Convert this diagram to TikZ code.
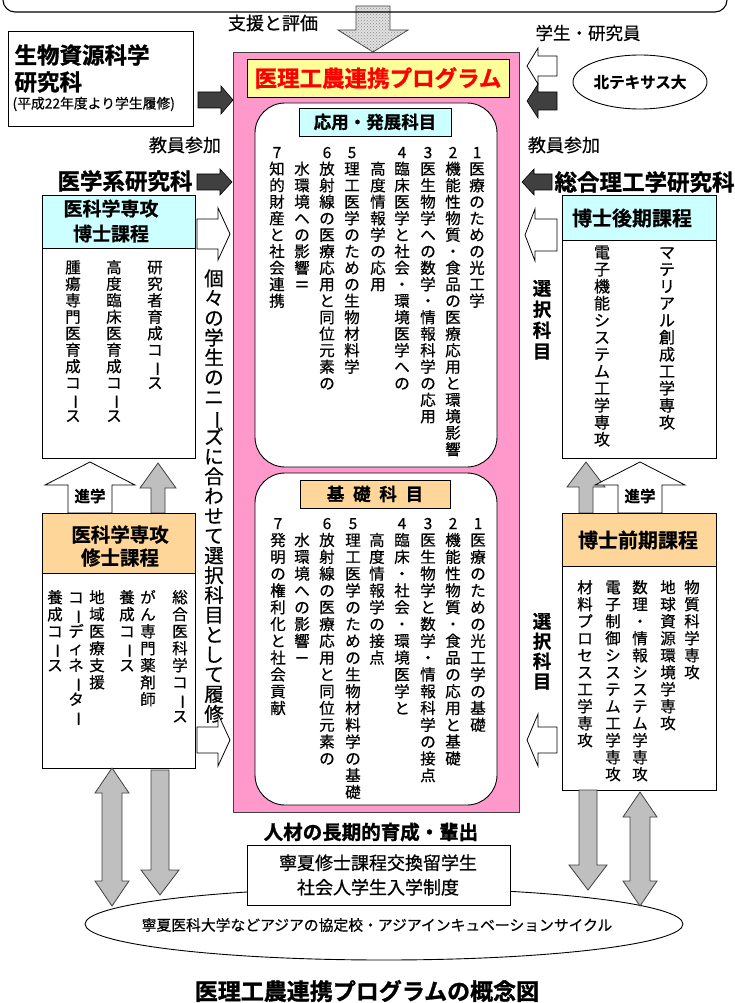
\documentclass[tikz,border=0pt]{standalone}
\usepackage{fontspec}
\usepackage{graphicx}
\setmainfont{Noto Sans CJK JP}[BoldFont={Noto Sans CJK JP Bold}, FakeBold=0.6]
\newfontfamily\heavy{Noto Sans CJK JP Bold}[FakeBold=1.2]
\usetikzlibrary{shapes.geometric,patterns}

\definecolor{pinkc}{HTML}{FF99CC}
\definecolor{yel}{HTML}{FFFF99}
\definecolor{cyanl}{HTML}{CCFFFF}
\definecolor{orl}{HTML}{FFD699}
\definecolor{darkarr}{HTML}{404040}
\definecolor{grayarr}{HTML}{BFBFBF}
\definecolor{redt}{HTML}{FF0000}

\newcommand\fs[2]{\fontsize{#1pt}{#2pt}\selectfont}

\ExplSyntaxOn
\cs_new:Npn \vt_item:n #1
  {
    \hbox_to_wd:nn {1em}
      {
        \hss \vrule~height~.88em~depth~.12em~width~0pt\relax
        \str_if_eq:nnTF {#1} {ー}
          { \rotatebox[origin=c]{-90}{ー} }
          { #1 }
        \hss
      }
  }
\NewDocumentCommand \vt { O{16.5pt} m }
  {
    \vbox
      {
        \baselineskip=#1\relax
        \lineskiplimit=-100pt\relax
        \lineskip=0pt\relax
        \tl_map_function:nN {#2} \vt_item:n
      }
  }
\ExplSyntaxOff

% block arrow: tip x, tip y, rotation, length, shaft half width, head half width, head length
\newcommand\barrow[8][]{%
  \draw[#1,shift={(#2,#3)},rotate=#4] (0,0) -- (-#8,#7) -- (-#8,#6) -- (-#5,#6)
    -- (-#5,-#6) -- (-#8,-#6) -- (-#8,-#7) -- cycle;}
% vertical double arrow: x, y top, y bottom, shaft hw, head hw, head length
\newcommand\dblarrow[7][]{%
  \draw[#1] (#2,#3) -- ({#2+#6},{#3+#7}) -- ({#2+#5},{#3+#7}) -- ({#2+#5},{#4-#7})
    -- ({#2+#6},{#4-#7}) -- (#2,#4) -- ({#2-#6},{#4-#7}) -- ({#2-#5},{#4-#7})
    -- ({#2-#5},{#3+#7}) -- ({#2-#6},{#3+#7}) -- cycle;}
% vertical text column: size, x, first char centre y, pitch, text
\newcommand\vcol[5]{\node[colnode, font=\fs{#1}{#1}, yshift={0.5*#1}] at (#2,#3) {\vt[#4pt]{#5}};}
\newcommand\vcolb[5]{\node[colnode, font=\fs{#1}{#1}\bfseries, yshift={0.5*#1}] at (#2,#3) {\vt[#4pt]{#5}};}

\begin{document}
\begin{tikzpicture}[x=1pt,y=-1pt,
  colnode/.style={anchor=north, inner sep=0pt},
  grayarrow/.style={fill=grayarr, draw=darkarr, line width=0.8pt},
  darkarrow/.style={fill=darkarr, draw=black, line width=0.6pt},
  whitearrow/.style={fill=white, draw=black, line width=0.8pt},
  boxline/.style={draw=black, line width=0.9pt}]
\useasboundingbox (0,0) rectangle (735,1003);

% ---------- top ----------
\barrow[grayarrow, fill=black!12, postaction={pattern=crosshatch dots, pattern color=black!45}]{373}{52}{-90}{46}{17}{35}{22}
\draw[boxline, line width=1.1pt, rounded corners=12pt] (3,-40) rectangle (727,12);
\node[font=\fs{18}{20}] (shien) at (273,23) {支援と評価};

% left top box
\node[boxline, fill=white, minimum width=185, minimum height=95, anchor=north west, inner sep=0] (bio) at (8,31) {};
\node[font=\fs{22.5}{26}\heavy, anchor=west] (bio1) at (11,55) {生物資源科学};
\node[font=\fs{22.5}{26}\heavy, anchor=west] (bio2) at (11,82) {研究科};
\node[font=\fs{13.8}{16}, anchor=west] (bio3) at (9,104) {(平成22年度より学生履修)};
\barrow[darkarrow]{233}{100}{0}{35}{8}{14}{12}

% right top
\node[font=\fs{17.5}{20}] (gakusei) at (588,33) {学生・研究員};
\node[draw, line width=0.9pt, ellipse, minimum width=134, minimum height=54, inner sep=0, font=\fs{15.5}{18}\bfseries] (ntx) at (640,82) {北テキサス大};
\barrow[whitearrow]{527}{66}{180}{30}{10}{18}{11}
\barrow[darkarrow]{527}{101}{180}{30}{9}{17}{11}

% ---------- central programme ----------
\node[draw=darkarr, fill=pinkc, line width=1.2pt, minimum width=286, minimum height=760, anchor=north west, inner sep=0] (prog) at (233,52) {};
\node[boxline, fill=yel, minimum width=262, minimum height=38, anchor=north west, inner sep=0] (ytitle) at (247,59) {};
\node[font=\fs{22.5}{26}\heavy, text=redt] (ytext) at (378,78) {医理工農連携プログラム};

\draw[boxline, fill=white, rounded corners=30pt] (255,103) rectangle (497,467);
\draw[boxline, fill=white, rounded corners=30pt] (255,473) rectangle (497,805);

\node[boxline, fill=cyanl, minimum width=152, minimum height=28, inner sep=0, font=\fs{17.5}{20}\bfseries] (ouyou) at (375,122) {応用・発展科目};
\node[boxline, fill=orl, minimum width=150, minimum height=28, inner sep=0, font=\fs{17.5}{20}\bfseries] (kiso) at (375,494) {基\hspace{.5em}礎\hspace{.5em}科\hspace{.5em}目};

% upper columns
\vcol{15.5}{477}{152}{16.5}{1医療のための光工学}
\vcol{15.5}{453}{152}{16.5}{2機能性物質・食品の医療応用と環境影響}
\vcol{15.5}{428}{152}{16.5}{3医生物学への数学・情報科学の応用}
\vcol{15.5}{402}{152}{16.5}{4臨床医学と社会・環境医学への}
\vcol{15.5}{378}{168.5}{16.5}{高度情報学の応用}
\vcol{15.5}{352}{152}{16.5}{5理工医学のための生物材料学}
\vcol{15.5}{327}{152}{16.5}{6放射線の医療応用と同位元素の}
\vcol{15.5}{302}{168.5}{16.5}{水環境への影響{\rotatebox[origin=c]{90}{Ⅱ}}}
\vcol{15.5}{277}{152}{16.5}{7知的財産と社会連携}

% lower columns
\vcol{15.5}{478}{523}{16.8}{1医療のための光工学の基礎}
\vcol{15.5}{453}{523}{16.8}{2機能性物質・食品の応用と基礎}
\vcol{15.5}{428}{523}{16.8}{3医生物学と数学・情報科学の接点}
\vcol{15.5}{402}{523}{16.8}{4臨床・社会・環境医学と}
\vcol{15.5}{377}{539.8}{16.8}{高度情報学の接点}
\vcol{15.5}{353}{523}{16.8}{5理工医学のための生物材料学の基礎}
\vcol{15.5}{327}{523}{16.8}{6放射線の医療応用と同位元素の}
\vcol{15.5}{302}{539.8}{16.8}{水環境への影響{\rotatebox[origin=c]{90}{Ⅰ}}}
\vcol{15.5}{278}{523}{16.8}{7発明の権利化と社会貢献}

% ---------- left side ----------
\node[font=\fs{18}{20}] (kyoinL) at (185,145) {教員参加};
\node[font=\fs{22.5}{25}\heavy, anchor=east] (igakukei) at (196,181) {医学系研究科};
\barrow[darkarrow]{232}{182}{0}{35}{8}{13}{12}

\node[boxline, fill=white, minimum width=153, minimum height=263, anchor=north west, inner sep=0] (hakaseL) at (42,195) {};
\node[boxline, fill=cyanl, minimum width=153, minimum height=53, anchor=north west, inner sep=0] (hakaseLh) at (42,195) {};
\node[font=\fs{19}{25}\bfseries, align=center] (hakaseLt) at (111,221) {医科学専攻\\博士課程};
\vcol{15.5}{155}{267}{16.5}{研究者育成コース}
\vcol{15.5}{114}{267}{16.5}{高度臨床医育成コース}
\vcol{15.5}{73}{267}{16.5}{腫瘍専門医育成コース}

\barrow[whitearrow]{230}{234}{0}{33}{15}{26}{12}
\vcol{19.5}{214}{278}{19.8}{個々の学生のニーズに合わせて選択科目として履修}
\barrow[whitearrow]{230}{740}{0}{33}{13}{26}{12}

\barrow[grayarrow]{158}{463}{90}{50}{7}{18}{25}
\barrow[whitearrow]{90}{462}{90}{51}{22}{45}{23}
\node[font=\fs{15.5}{18}\bfseries] (shingakuL) at (90,496) {進学};

\node[boxline, fill=white, minimum width=153, minimum height=255, anchor=north west, inner sep=0] (shushiL) at (42,513) {};
\node[boxline, fill=orl, minimum width=153, minimum height=60, anchor=north west, inner sep=0] (shushiLh) at (42,513) {};
\node[font=\fs{19.5}{23}\bfseries, align=center] (shushiLt) at (120,546) {医科学専攻\\修士課程};
\vcol{15.5}{180}{597}{17}{総合医科学コース}
\vcol{15.5}{148}{597}{17}{がん専門薬剤師}
\vcol{15.5}{127}{597}{17}{養成コース}
\vcol{15.5}{97}{597}{17}{地域医療支援}
\vcol{15.5}{76}{597}{17}{コーディネーター}
\vcol{15.5}{55}{597}{17}{養成コース}

% ---------- right side ----------
\node[font=\fs{18}{20}] (kyoinR) at (564,145) {教員参加};
\barrow[darkarrow]{522}{182}{180}{30}{8}{13}{12}
\node[font=\fs{22.5}{25}\heavy, anchor=west] (sogo) at (551,182) {総合理工学研究科};

\node[boxline, fill=white, minimum width=154, minimum height=263, anchor=north west, inner sep=0] (hakaseR) at (562,195) {};
\node[boxline, fill=cyanl, minimum width=154, minimum height=45, anchor=north west, inner sep=0] (hakaseRh) at (562,195) {};
\node[font=\fs{20}{24}\bfseries] (hakaseRt) at (632,218) {博士後期課程};
\vcol{16}{667}{252}{17}{マテリアル創成工学専攻}
\vcol{16}{602}{252}{17}{電子機能システム工学専攻}

\barrow[whitearrow]{525}{235}{180}{32}{16}{26}{10}
\vcolb{18.5}{542}{288}{21}{選択科目}

\barrow[grayarrow]{586}{462}{90}{51}{7}{19}{25}
\barrow[whitearrow]{640}{462}{90}{51}{22}{45}{23}
\node[font=\fs{15.5}{18}\bfseries] (shingakuR) at (640,496) {進学};

\node[boxline, fill=white, minimum width=154, minimum height=277, anchor=north west, inner sep=0] (zenkiR) at (562,513) {};
\node[boxline, fill=orl, minimum width=154, minimum height=53, anchor=north west, inner sep=0] (zenkiRh) at (562,513) {};
\node[font=\fs{20}{24}\bfseries] (zenkiRt) at (638,540) {博士前期課程};
\vcol{15.5}{692}{587}{17}{物質科学専攻}
\vcol{15.5}{668}{587}{17}{地球資源環境学専攻}
\vcol{15.5}{640}{587}{17}{数理・情報システム学専攻}
\vcol{15.5}{613}{587}{17}{電子制御システム工学専攻}
\vcol{15.5}{585}{587}{17}{材料プロセス工学専攻}

\vcolb{18.5}{542}{621}{20}{選択科目}
\barrow[whitearrow]{527}{740}{180}{30}{13}{26}{11}

% ---------- bottom ----------
\node[draw, line width=0.9pt, ellipse, minimum width=598, minimum height=72, inner sep=0] (asia) at (384,924) {};
\node[font=\fs{14.8}{17}] (asiat) at (377,925) {寧夏医科大学などアジアの協定校・アジアインキュベーションサイクル};
\node[boxline, fill=white, minimum width=263, minimum height=60, anchor=north west, inner sep=0] (ningxia) at (247,845) {};
\node[font=\fs{18}{24.5}, align=center] (ningxiat) at (378,875) {寧夏修士課程交換留学生\\社会人学生入学制度};
\node[font=\fs{19.5}{22}\heavy] (jinzai) at (371,832) {人材の長期的育成・輩出};

\dblarrow[grayarrow]{112}{768}{906}{10}{17}{25}
\barrow[grayarrow]{160}{895}{-90}{125}{9}{19}{25}
\barrow[grayarrow]{588}{890}{-90}{100}{9}{19}{25}
\dblarrow[grayarrow]{640}{792}{906}{10}{17}{25}

\node[font=\fs{23}{26}\heavy] (gainen) at (367,991) {医理工農連携プログラムの概念図};
\end{tikzpicture}
\end{document}
